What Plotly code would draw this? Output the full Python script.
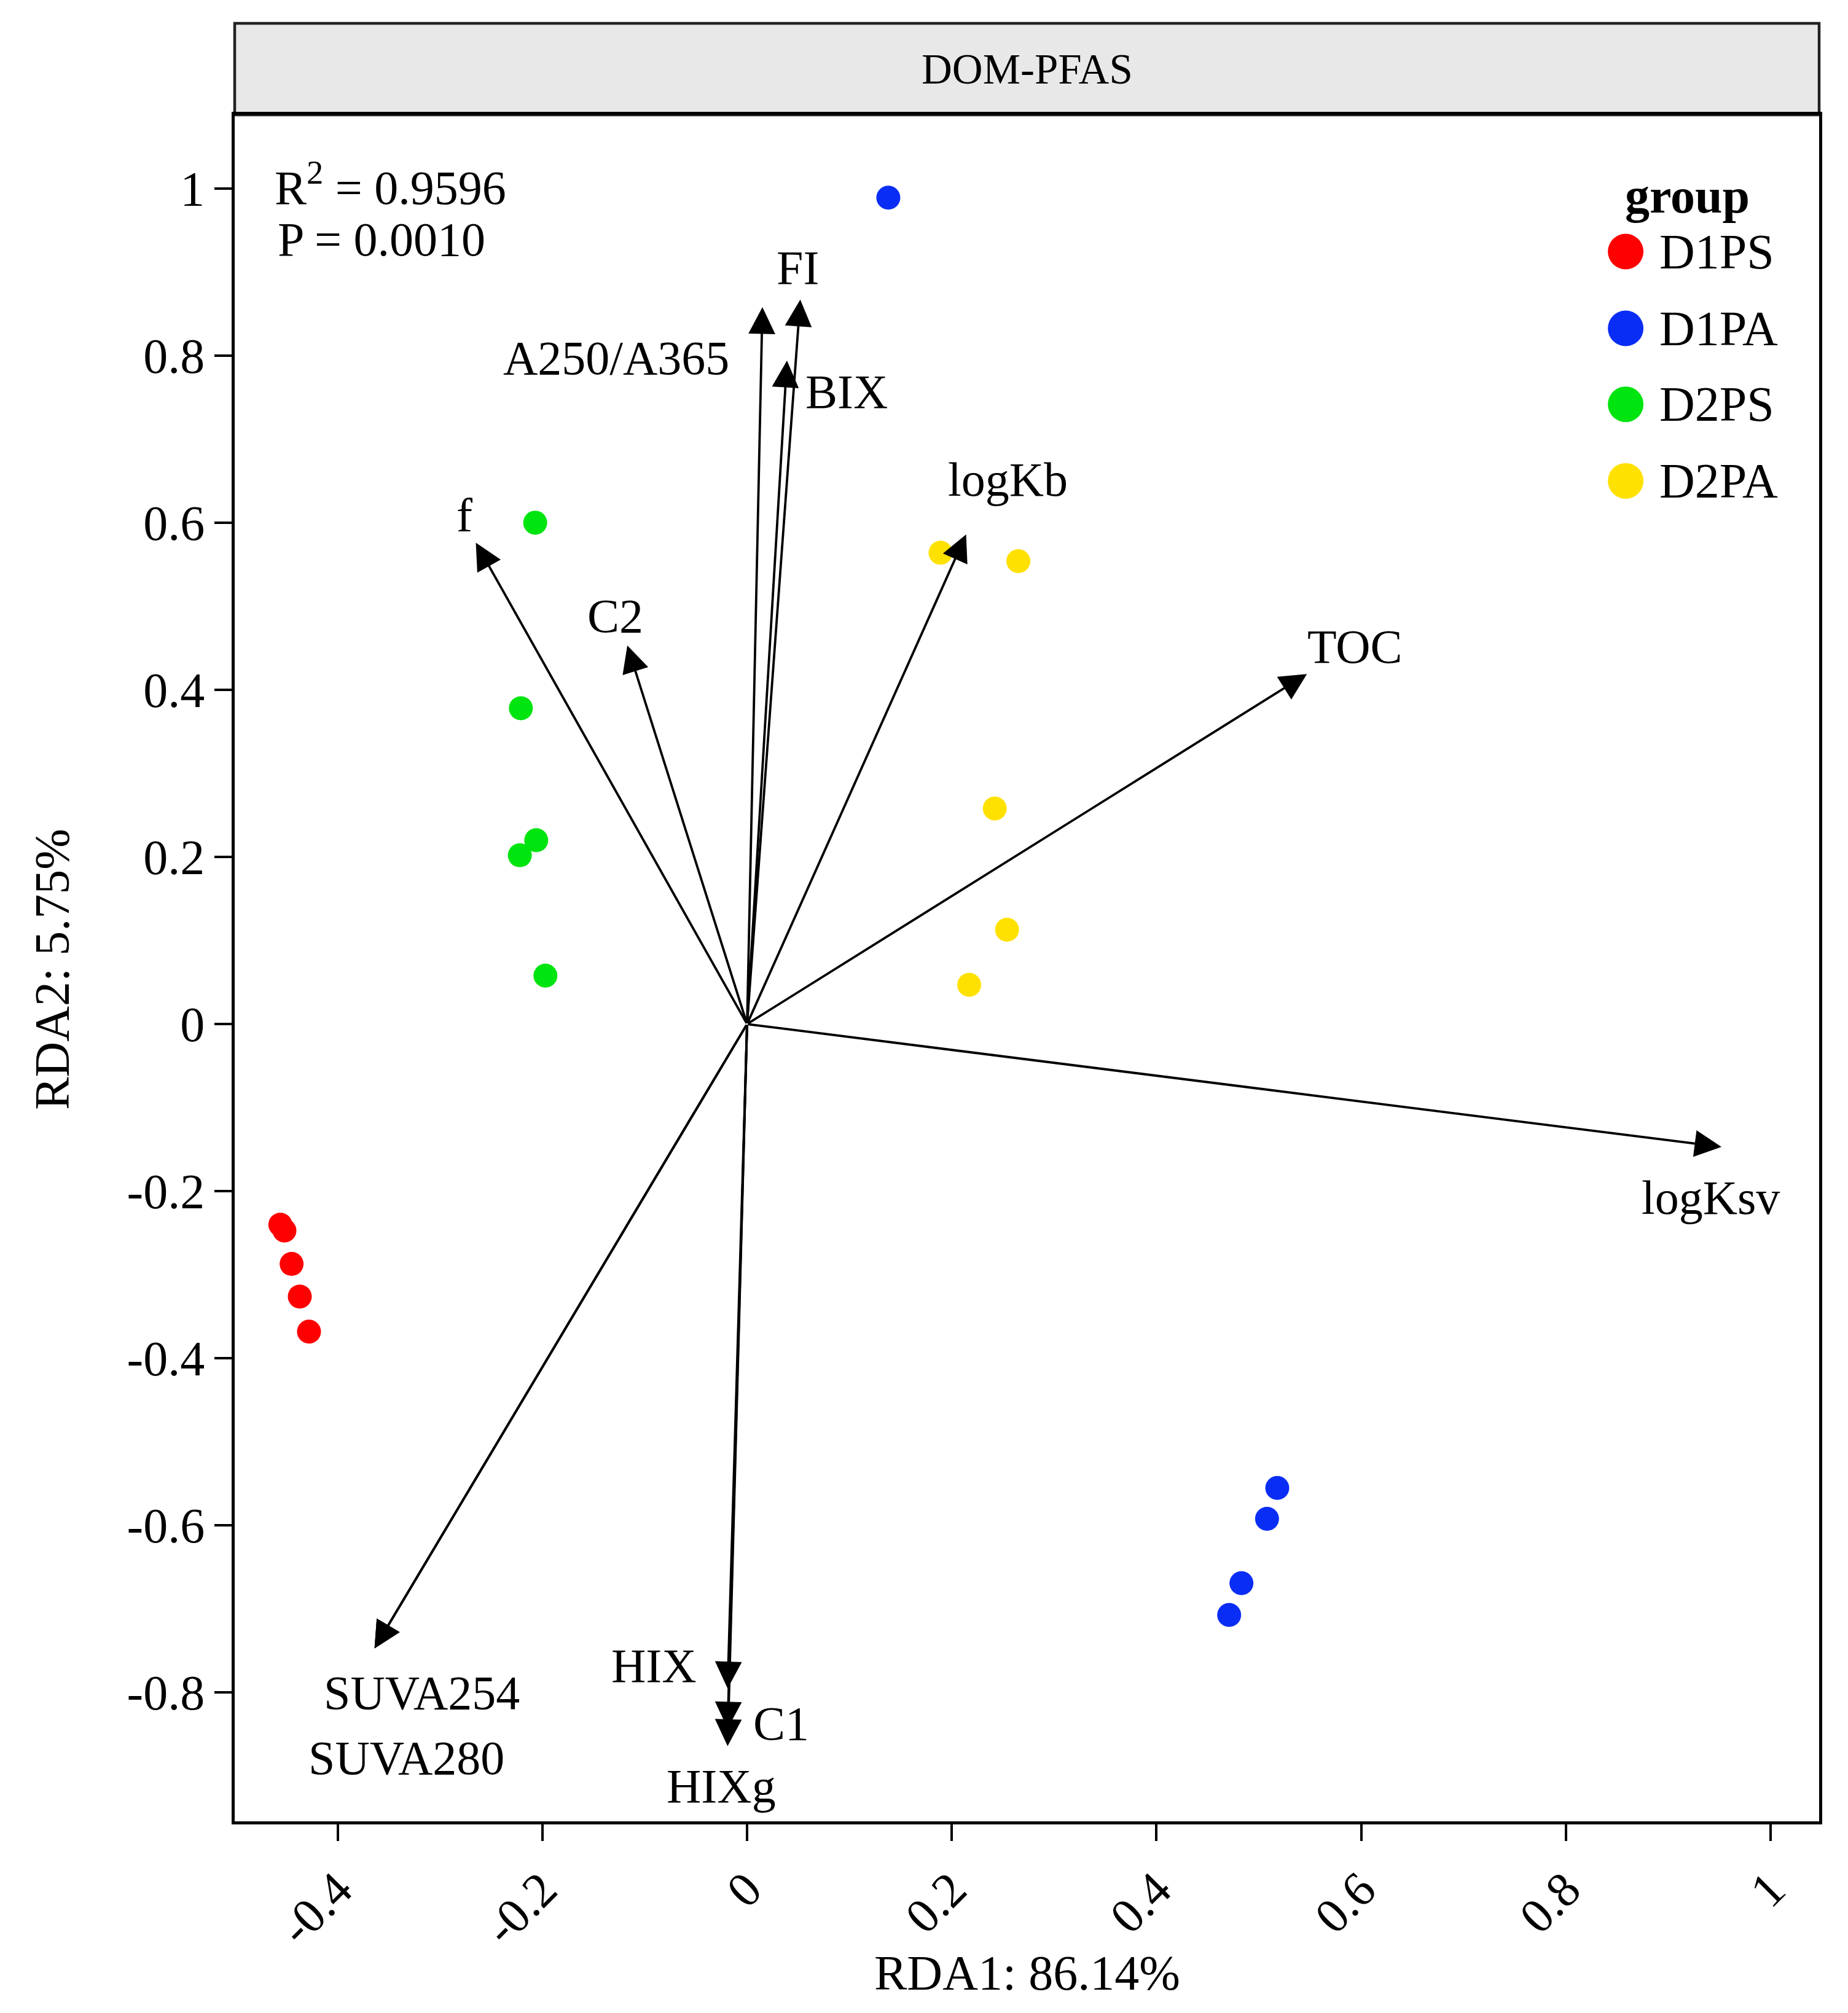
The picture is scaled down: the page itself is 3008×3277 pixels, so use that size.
import plotly.graph_objects as go

# sample scores (RDA1, RDA2)
groups = ["D1PS", "D1PA", "D2PS", "D2PA"]
group_colors = ["#FF0000", "#0A2DF5", "#00E40F", "#FFE100"]

d1ps_x = [-0.456, -0.452, -0.445, -0.437, -0.428]
d1ps_y = [-0.240, -0.247, -0.287, -0.326, -0.368]
d1pa_x = [0.138, 0.518, 0.508, 0.483, 0.471]
d1pa_y = [0.989, -0.555, -0.592, -0.669, -0.707]
d2ps_x = [-0.207, -0.221, -0.206, -0.222, -0.197]
d2ps_y = [0.600, 0.378, 0.220, 0.202, 0.058]
d2pa_x = [0.189, 0.265, 0.242, 0.254, 0.217]
d2pa_y = [0.564, 0.554, 0.258, 0.113, 0.047]

# environmental variable loadings (arrow tips)
env_vars = ["FI", "A250/A365", "BIX", "logKb", "f", "C2", "TOC", "logKsv",
            "SUVA254", "SUVA280", "HIX", "C1", "HIXg"]
env_rda1 = [0.052, 0.015, 0.039, 0.214, -0.265, -0.117, 0.547, 0.952,
            -0.364, -0.364, -0.019, -0.019, -0.019]
env_rda2 = [0.867, 0.858, 0.794, 0.586, 0.576, 0.453, 0.419, -0.147,
            -0.747, -0.747, -0.795, -0.843, -0.864]

# where the (repelled) labels ended up
label_x = [0.0495, -0.128, 0.097, 0.255, -0.276, -0.129, 0.594, 0.9415,
           -0.318, -0.333, -0.091, 0.0335, -0.025]
label_y = [0.9055, 0.797, 0.757, 0.652, 0.609, 0.4885, 0.452, -0.2076,
           -0.800, -0.878, -0.768, -0.8365, -0.912]

x_ticks = [-0.4, -0.2, 0, 0.2, 0.4, 0.6, 0.8, 1]
x_ticktext = ["-0.4", "-0.2", "0", "0.2", "0.4", "0.6", "0.8", "1"]
y_ticks = [1, 0.8, 0.6, 0.4, 0.2, 0, -0.2, -0.4, -0.6, -0.8]
y_ticktext = ["1", "0.8", "0.6", "0.4", "0.2", "0", "-0.2", "-0.4", "-0.6", "-0.8"]

r2_text = "R<sup>2</sup> = 0.9596"
p_text = "P = 0.0010"
strip_title = "DOM-PFAS"
x_title = "RDA1: 86.14%"
y_title = "RDA2: 5.75%"

FONT = "Liberation Serif"
W, H = 2992, 3261
ML, MR, MT, MB = 374, 39, 179, 304
plot_h = H - MT - MB

fig = go.Figure()

group_xs = [d1ps_x, d1pa_x, d2ps_x, d2pa_x]
group_ys = [d1ps_y, d1pa_y, d2ps_y, d2pa_y]
for name, col, gx, gy in zip(groups, group_colors, group_xs, group_ys):
    fig.add_trace(go.Scatter(x=gx, y=gy, mode="markers", name=name,
                             marker=dict(color=col, size=39, line=dict(width=0)),
                             showlegend=False))

# arrows from origin
for vx, vy in zip(env_rda1, env_rda2):
    fig.add_annotation(x=vx, y=vy, xref="x", yref="y",
                       ax=0, ay=0, axref="x", ayref="y",
                       text="", showarrow=True,
                       arrowhead=2, arrowsize=2.3, arrowwidth=3.8,
                       arrowcolor="black", standoff=0, startstandoff=0)

for name, lx, ly in zip(env_vars, label_x, label_y):
    fig.add_annotation(x=lx, y=ly, xref="x", yref="y", text=name,
                       showarrow=False, xanchor="center", yanchor="middle",
                       font=dict(family=FONT, size=78, color="black"))

# R2 / P
fig.add_annotation(x=-0.463, y=1.005, xref="x", yref="y", text=r2_text,
                   showarrow=False, xanchor="left", yanchor="middle",
                   font=dict(family=FONT, size=78, color="black"))
fig.add_annotation(x=-0.46, y=0.939, xref="x", yref="y", text=p_text,
                   showarrow=False, xanchor="left", yanchor="middle",
                   font=dict(family=FONT, size=78, color="black"))

# facet strip
strip_top = 1 + 149 / plot_h
fig.add_shape(type="rect", xref="paper", yref="paper", x0=0, x1=1, y0=1, y1=strip_top,
              fillcolor="#E8E8E8", line=dict(color="#222222", width=4.5), layer="below")
fig.add_annotation(x=0.5, y=(1 + strip_top) / 2, xref="paper", yref="paper",
                   text=strip_title, showarrow=False, xanchor="center", yanchor="middle",
                   font=dict(family=FONT, size=69, color="black"))

# axis titles
fig.add_annotation(x=0.5, y=-0.0889, xref="paper", yref="paper", text=x_title,
                   showarrow=False, xanchor="center", yanchor="middle",
                   font=dict(family=FONT, size=80, color="black"))
fig.add_annotation(x=-0.1152, y=0.4993, xref="paper", yref="paper", text=y_title,
                   showarrow=False, xanchor="center", yanchor="middle", textangle=-90,
                   font=dict(family=FONT, size=80, color="black"))

# legend, drawn by hand so the keys can be large
fig.add_annotation(x=0.917, y=0.9525, xref="paper", yref="paper", text="<b>group</b>",
                   showarrow=False, xanchor="center", yanchor="middle",
                   font=dict(family=FONT, size=80, color="black"))
leg_y = [0.9199, 0.8749, 0.8304, 0.7855]
for name, col, yy in zip(groups, group_colors, leg_y):
    fig.add_shape(type="circle", xref="paper", yref="paper",
                  xsizemode="pixel", ysizemode="pixel",
                  xanchor=0.8779, yanchor=yy, x0=-29, x1=29, y0=-29, y1=29,
                  fillcolor=col, line=dict(width=0))
    fig.add_annotation(x=0.8984, y=yy, xref="paper", yref="paper", text=name,
                       showarrow=False, xanchor="left", yanchor="middle",
                       font=dict(family=FONT, size=80, color="black"))

fig.update_xaxes(range=[-0.5006, 1.0474], tickvals=x_ticks, ticktext=x_ticktext,
                 tickangle=-45, ticks="outside", ticklen=27, tickwidth=4, tickcolor="black",
                 showgrid=False, zeroline=False, showline=True, mirror=True,
                 linecolor="black", linewidth=4.5,
                 tickfont=dict(family=FONT, size=80, color="black"))
fig.update_yaxes(range=[-0.954, 1.088], tickvals=y_ticks, ticktext=y_ticktext,
                 ticks="outside", ticklen=28, tickwidth=4, tickcolor="black",
                 showgrid=False, zeroline=False, showline=True, mirror=True,
                 linecolor="black", linewidth=4.5,
                 tickfont=dict(family=FONT, size=80, color="black"))

fig.update_layout(width=W, height=H, autosize=False,
                  margin=dict(l=ML, r=MR, t=MT, b=MB),
                  plot_bgcolor="white", paper_bgcolor="white",
                  showlegend=False)

fig.write_html("out.html")
